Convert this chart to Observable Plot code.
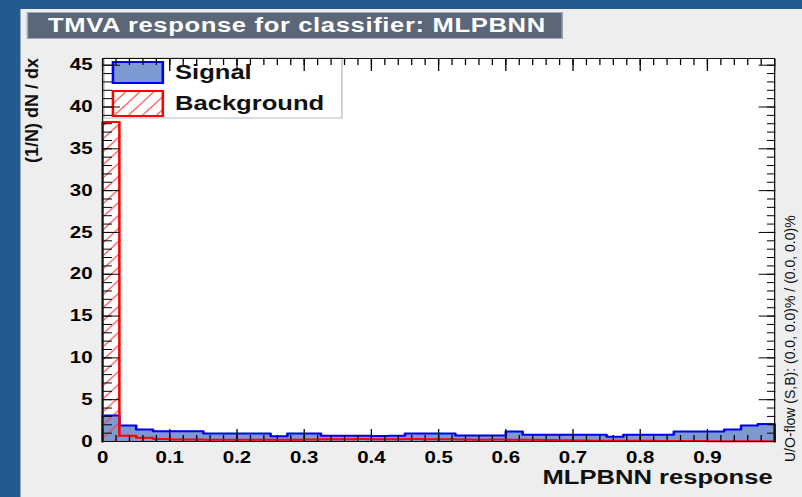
<!DOCTYPE html>
<html><head><meta charset="utf-8">
<script src="https://cdn.jsdelivr.net/npm/d3@7"></script>
<script src="https://cdn.jsdelivr.net/npm/@observablehq/plot@0.6"></script>
<style>
html,body{margin:0;padding:0;width:802px;height:497px;overflow:hidden;background:#245a8d;font-family:"Liberation Sans",Arial,Helvetica,sans-serif;}
#stage{position:absolute;left:0;top:0;width:627px;height:497px;transform-origin:0 0;transform:scaleX(1.2791);}
#canvasbg{position:absolute;left:15.6px;top:9px;right:0;bottom:0;background:#eeeeee;}
#title{position:absolute;left:21.1px;top:12px;width:419px;height:27px;background:#5b6679;border:1px solid #a3abb8;box-sizing:border-box;color:#fff;font-weight:bold;font-size:20px;line-height:25px;padding-left:15.4px;letter-spacing:0.5px;white-space:nowrap;}
#plot{position:absolute;left:0;top:0;}
.rot{position:absolute;white-space:nowrap;transform-origin:0 0;color:#111;}
</style></head>
<body>
<div id="stage">
  <div id="canvasbg"></div>
  <div id="title">TMVA response for classifier: MLPBNN</div>
  <div id="plot"></div>
</div>
<div class="rot" id="ylab" style="left:22px;top:58px;font-size:18px;font-weight:bold;line-height:20px;transform:rotate(-90deg) translateX(-100%);">(1/N) dN / dx</div>
<div class="rot" id="uoflow" style="left:782px;top:462px;font-size:14px;line-height:16px;transform:rotate(-90deg);">U/O-flow (S,B): (0.0, 0.0)% / (0.0, 0.0)%</div>
<script>
// ---- data ----
const xMin = 0, xMax = 1, nBins = 40;
const binWidth = (xMax - xMin) / nBins;
const signalDensity = [
  3.1, 1.9, 1.43, 1.23, 1.23, 1.23, 0.95, 0.95, 0.95, 0.95,
  0.63, 0.95, 0.95, 0.7, 0.68, 0.7, 0.66, 0.7, 0.95, 0.95,
  0.95, 0.72, 0.72, 0.72, 1.2, 0.8, 0.8, 0.8, 0.8, 0.8,
  0.56, 0.8, 0.8, 0.8, 1.2, 1.2, 1.2, 1.43, 1.9, 2.1
];
const backgroundDensity = [
  38.2, 0.7, 0.45, 0.3, 0.25, 0.25, 0.22, 0.2, 0.2, 0.2,
  0.2, 0.22, 0.25, 0.28, 0.28, 0.3, 0.28, 0.28, 0.3, 0.28,
  0.28, 0.25, 0.22, 0.25, 0.22, 0.2, 0.18, 0.15, 0.12, 0.1,
  0.1, 0.08, 0.08, 0.06, 0.05, 0.05, 0.04, 0.03, 0.03, 0.03
];
const yMax = 45.8;
const xMajorTicks = [0, 0.1, 0.2, 0.3, 0.4, 0.5, 0.6, 0.7, 0.8, 0.9, 1.0];
const xTickLabels = [0, 0.1, 0.2, 0.3, 0.4, 0.5, 0.6, 0.7, 0.8, 0.9];
const xMinorTicks = d3.range(0, 51).map(i => i * 0.02);
const yMajorTicks = [0, 5, 10, 15, 20, 25, 30, 35, 40, 45];
const yMinorTicks = d3.range(0, 46);
const legendLabels = ["Signal", "Background"];
const xTitle = "MLPBNN response";

// ---- style ----
const FONT = '"Liberation Sans", Arial, Helvetica, sans-serif';
const sigFill = "#7d99d1", sigLine = "#0000ee", bkgLine = "#ff0000";

function stepPoints(vals) {
  const pts = vals.map((v, i) => ({x: xMin + i * binWidth, y: v}));
  pts.push({x: xMax, y: vals[vals.length - 1]});
  return pts;
}
function outlinePoints(vals) {
  return [{x: xMin, y: 0}, ...stepPoints(vals), {x: xMax, y: 0}];
}

function hatchDefs() {
  const g = d3.create("svg:g");
  const p = g.append("defs").append("pattern")
    .attr("id", "bkgHatch").attr("patternUnits", "userSpaceOnUse")
    .attr("width", 11).attr("height", 13);
  p.append("path")
    .attr("d", "M0,13 L11,0 M-1.1,1.3 L1.1,-1.3 M9.9,14.3 L12.1,11.7")
    .attr("stroke", "#ff3b3b").attr("stroke-width", 0.9).attr("fill", "none");
  return g.node();
}

function legendMark(index, scales, values, dims) {
  const g = d3.create("svg:g").attr("font-family", FONT).attr("text-anchor", "start");
  const x0 = dims.marginLeft + 1.6, y0 = dims.marginTop;
  g.append("rect").attr("x", x0).attr("y", y0).attr("width", 186).attr("height", 60)
    .attr("fill", "white").attr("stroke", "#b4b9c2").attr("stroke-width", 1);
  const rows = [
    {label: legendLabels[0], y: y0 + 4, h: 21, fill: sigFill, stroke: sigLine},
    {label: legendLabels[1], y: y0 + 33, h: 25, fill: "url(#bkgHatch)", stroke: bkgLine}
  ];
  for (const r of rows) {
    g.append("rect").attr("x", x0 + 7).attr("y", r.y).attr("width", 39).attr("height", r.h)
      .attr("fill", r.fill).attr("stroke", r.stroke).attr("stroke-width", 2);
    g.append("text").attr("x", x0 + 55.5).attr("y", r.y + r.h / 2).attr("dy", "0.35em")
      .attr("text-anchor", "start")
      .attr("font-size", 20).attr("font-weight", "bold").attr("fill", "#111").text(r.label);
  }
  return g.node();
}

const noText = () => null;
const tickFmt = d => d === 0 ? "0" : d3.format(".1f")(d);

const chart = Plot.plot({
  width: 627, height: 497,
  marginLeft: 79.7, marginRight: 21.9, marginTop: 58, marginBottom: 56,
  x: {domain: [xMin, xMax]},
  y: {domain: [0, yMax]},
  style: {background: "transparent", overflow: "visible", fontFamily: FONT, color: "#000"},
  marks: [
    hatchDefs,
    Plot.frame({fill: "white", stroke: null}),
    Plot.area(stepPoints(signalDensity), {x1: "x", y1: 0, y2: "y", curve: "step-after", fill: sigFill}),
    Plot.area(stepPoints(backgroundDensity), {x1: "x", y1: 0, y2: "y", curve: "step-after", fill: "url(#bkgHatch)"}),
    Plot.line(outlinePoints(signalDensity), {x: "x", y: "y", curve: "step-after", stroke: sigLine, strokeWidth: 2}),
    Plot.line(outlinePoints(backgroundDensity), {x: "x", y: "y", curve: "step-after", stroke: bkgLine, strokeWidth: 2}),
    legendMark,
    Plot.axisX({anchor: "bottom", ticks: xMinorTicks, tickSize: -6, tickFormat: noText, label: null}),
    Plot.axisX({anchor: "bottom", ticks: xMajorTicks, tickSize: -12, tickFormat: noText, label: null}),
    Plot.axisX({anchor: "top", ticks: xMinorTicks, tickSize: -6, tickFormat: noText, label: null}),
    Plot.axisX({anchor: "top", ticks: xMajorTicks, tickSize: -12, tickFormat: noText, label: null}),
    Plot.axisY({anchor: "left", ticks: yMinorTicks, tickSize: -7.8, tickFormat: noText, label: null}),
    Plot.axisY({anchor: "left", ticks: yMajorTicks, tickSize: -14, tickFormat: noText, label: null}),
    Plot.axisY({anchor: "right", ticks: yMinorTicks, tickSize: -6.5, tickFormat: noText, label: null}),
    Plot.axisY({anchor: "right", ticks: yMajorTicks, tickSize: -13, tickFormat: noText, label: null}),
    Plot.axisX({anchor: "bottom", ticks: xTickLabels, tickSize: 0, tickPadding: 10, tickFormat: tickFmt,
      fontSize: 16, fontWeight: "bold", label: null}),
    Plot.axisY({anchor: "left", ticks: yMajorTicks, tickSize: 0, tickPadding: 7.8,
      fontSize: 16, fontWeight: "bold", label: null}),
    Plot.text([xTitle], {text: d => d, frameAnchor: "bottom-right", textAnchor: "end", dx: -1.5, dy: 42,
      fontSize: 20, fontWeight: "bold", fill: "#111"}),
    Plot.frame({stroke: "#111", strokeWidth: 1})
  ]
});
document.getElementById("plot").appendChild(chart);
</script>
</body></html>
